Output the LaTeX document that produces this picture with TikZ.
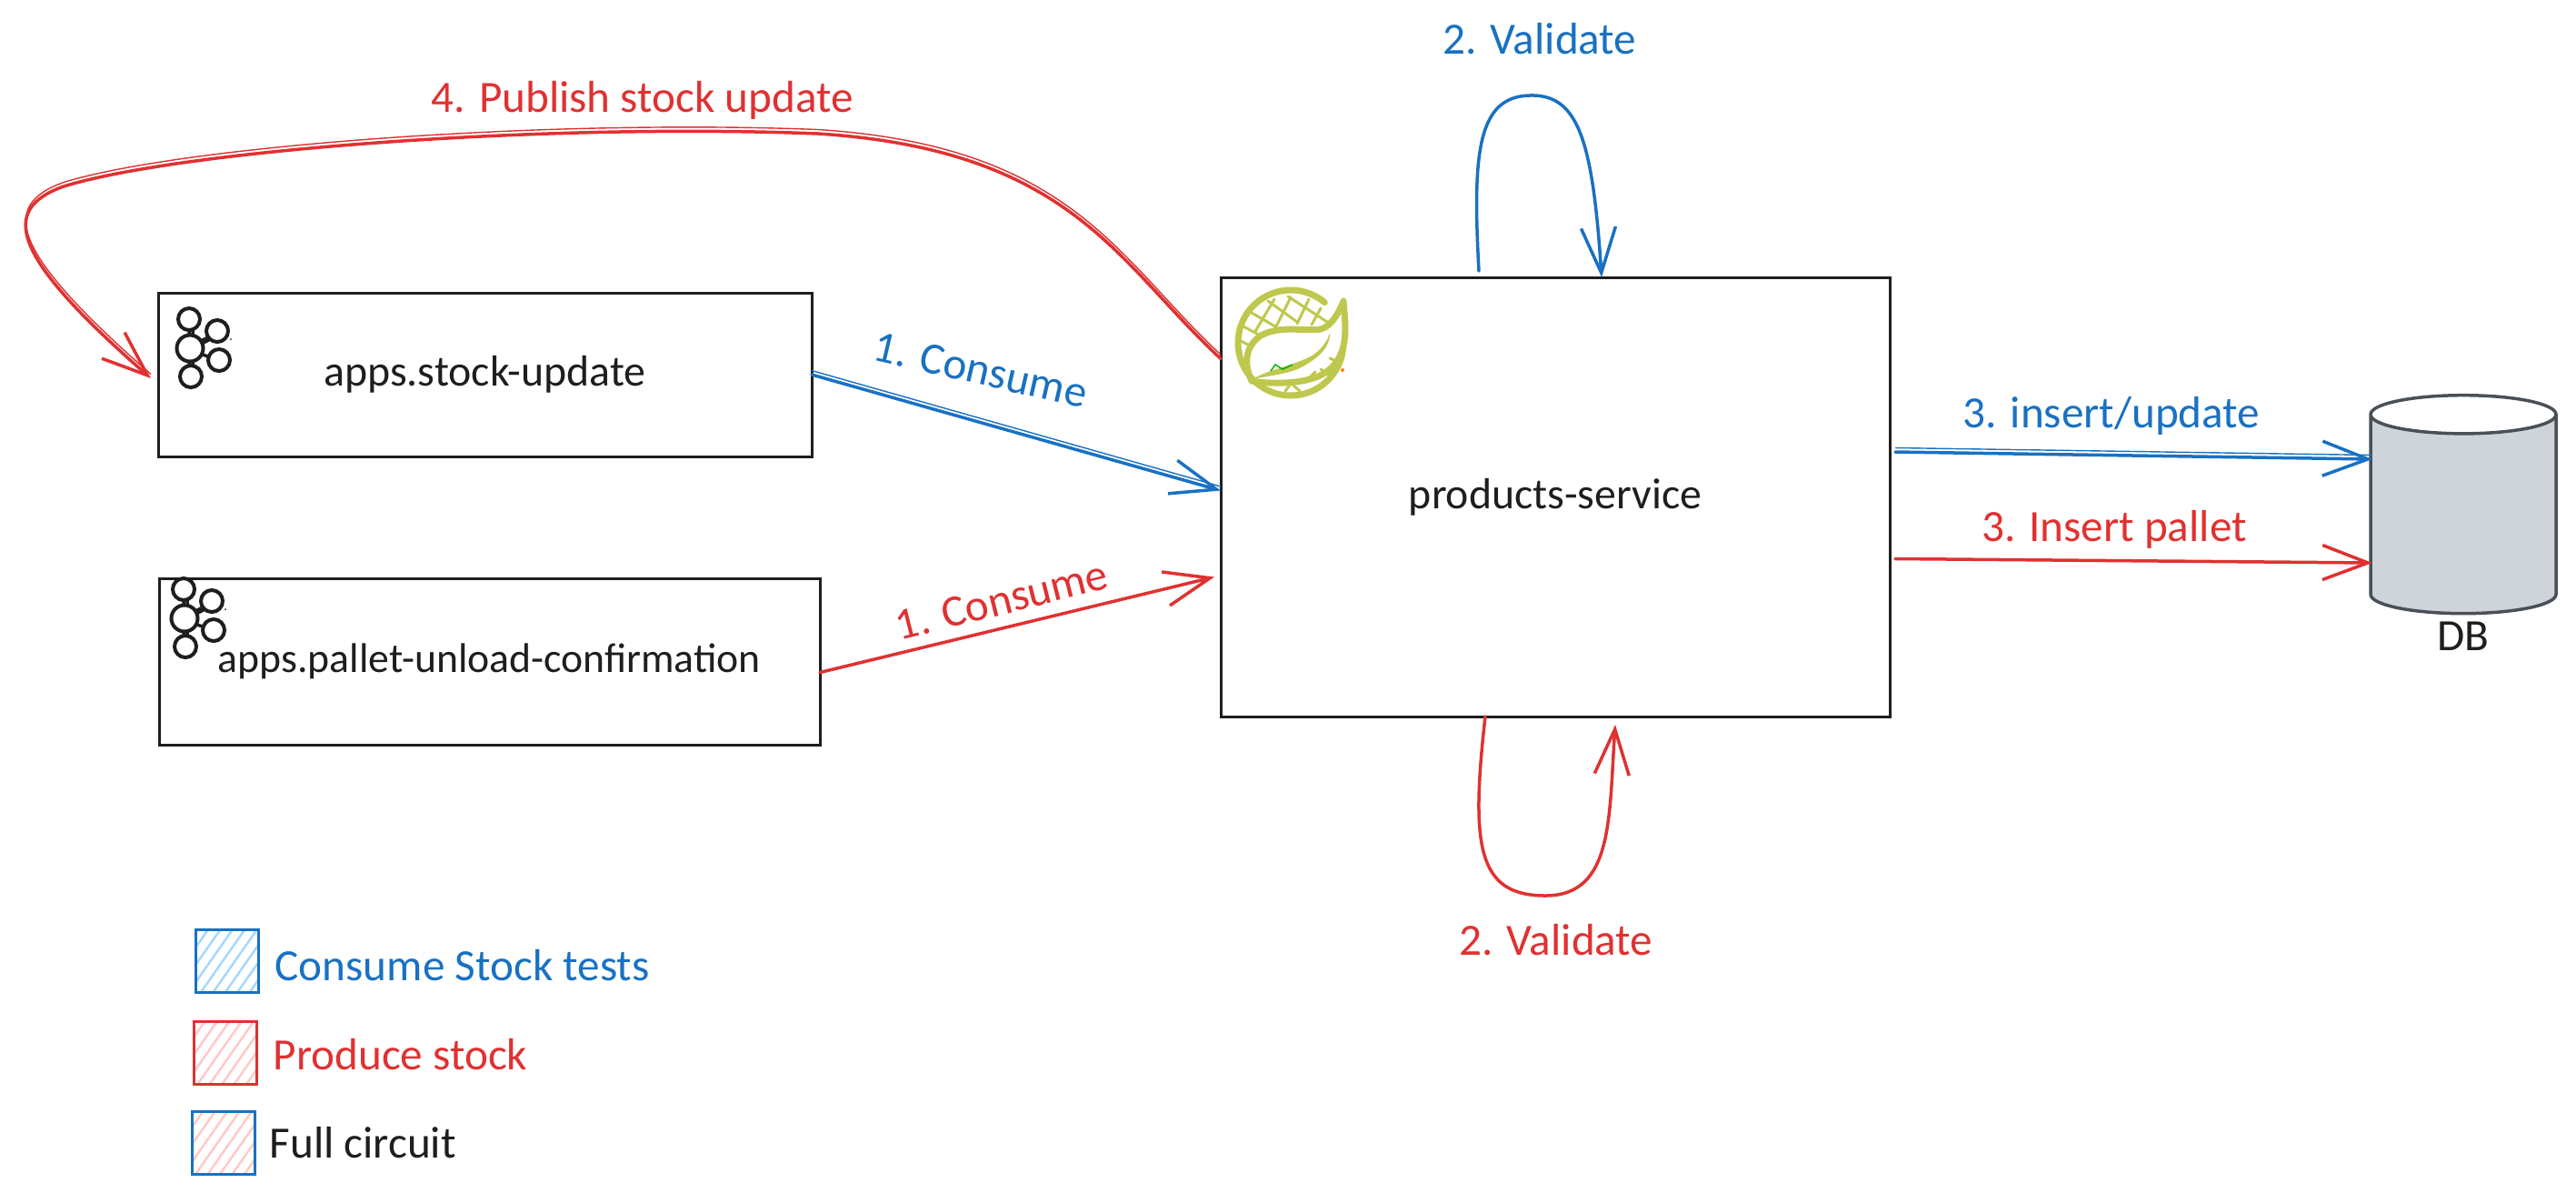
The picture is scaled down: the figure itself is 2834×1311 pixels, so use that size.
\documentclass[tikz,border=0pt]{standalone}
\usepackage{fontspec}
\setmainfont{Carlito}
\usepackage{xcolor}
\usetikzlibrary{arrows.meta,positioning,shapes.geometric,patterns.meta}
\definecolor{cons}{HTML}{1971C2}
\definecolor{prod}{HTML}{E03131}
\definecolor{ink}{HTML}{1E1E1E}
\definecolor{conshatch}{HTML}{A5D8FF}
\definecolor{prodhatch}{HTML}{FFC9C9}
\definecolor{spring}{HTML}{BFC84E}
\definecolor{dbfill}{HTML}{CED4DA}
\definecolor{dbline}{HTML}{495057}
\newcommand{\lblsize}{\fontsize{14}{16}\selectfont}
\newcommand{\boxsize}{\fontsize{13.6}{16}\selectfont}
\tikzset{
  blk/.style={draw=ink, line width=0.3mm, outer sep=0pt, inner sep=0pt,
              font=\boxsize, text=ink},
  ar/.style={-{Straight Barb[length=5mm,width=3.8mm,line width=0.35mm]},
             line width=0.35mm, line cap=round},
  consar/.style={ar, draw=cons},
  prodar/.style={ar, draw=prod},
  sketchy/.style={preaction={draw=#1, -, transform canvas={yshift=0.45mm}}},
  lbl/.style={font=\lblsize, inner sep=0pt},
  consl/.style={lbl, text=cons},
  prodl/.style={lbl, text=prod},
  legbox/.style={line width=0.3mm, outer sep=0pt, inner sep=0pt, minimum size=6.9mm},
  kafka/.pic={
    \draw[ink, line width=0.35mm]
      (-1,-22) -- (-1,22) (3,-22) -- (3,22) (0,-2) -- (26,-15) (0,2) -- (26,-12)
      (0,2) -- (28,12);
    \foreach \px/\py/\pr in {-1/-32/12, 30/-19/12, 32/13/12, 1/31/12, 0/0/14.5}
      \draw[ink, line width=0.4mm, fill=white] (\px,\py) circle (\pr);
    \fill[ink] (45,-10) circle (1);
  },
  springlogo/.pic={
    \begin{scope}[spring, line cap=round, line join=round]
    % net
    \draw[line width=0.3mm]
      (-18,-48) -- (-40,-11) (0,-50) -- (-17,-16) (20,-48) -- (7,-21) (33,-38) -- (23,-20)
      (-43,-33) -- (-17,-18) (-25,-46) -- (7,-23) (-3,-51) -- (40,-23)
      (-52,-18) -- (-37,-10) (-57,-3) -- (-47,2)
      (33,29) -- (42,35) (43,17) -- (50,20) (15,44) -- (27,32) (-6,53) -- (0,45) (3,47) -- (10,53);
    % ring
    \draw[line width=0.7mm] (0,0) +(-50:58) arc[start angle=-50, end angle=-355, radius=58];
    % leaf
    \draw[line width=0.7mm]
      (-43,42) .. controls (-52,22) and (-50,4) .. (-33,-8)
      .. controls (-10,-20) and (15,-12) .. (33,-15)
      .. controls (45,-18) and (54,-35) .. (58,-46)
      .. controls (60,-20) and (65,10) .. (43,29)
      .. controls (25,46) and (-20,46) .. (-43,42);
    % blade
    \fill (43,-11) .. controls (38,5) and (25,15) .. (13,19)
      .. controls (-10,28) and (-30,32) .. (-42,40)
      .. controls (-25,36) and (0,35) .. (17,24)
      .. controls (30,16) and (44,5) .. (43,-11);
    \end{scope}
    \draw[green!70!black, line width=0.15mm] (-22,31) -- (-17,24) -- (-9,29) -- (2,24);
    \fill[orange] (57,30) circle (2);
  },
}

\begin{document}
\begin{tikzpicture}[x=0.1mm, y=-0.1mm]
\useasboundingbox (0,0) rectangle (2834,1311);

% ---- topics ----
\node[blk, minimum width=71.9mm, minimum height=18mm] (stock) at (533.5,412) {apps.stock-update};
\node[blk, minimum width=72.7mm, minimum height=18.3mm, below=13.4mm of stock.south west, anchor=north west,
      xshift=0.1mm, font=\fontsize{13}{16}\selectfont] (pallet) {apps.pallet-unload-confirmation};
\pic at ([xshift=3.5mm,yshift=-6.1mm]stock.north west) {kafka};
\pic at ([xshift=2.8mm,yshift=-4.4mm]pallet.north west) {kafka};

% ---- service ----
\node[blk, minimum width=73.6mm, minimum height=48.3mm] (service) at (1711,546.5) {products-service};
\pic at ([xshift=7.7mm,yshift=-7.2mm]service.north west) {springlogo};

% ---- db ----
\node[cylinder, shape border rotate=90, aspect=1.8, draw=dbline, line width=0.35mm, outer sep=0pt,
      cylinder uses custom fill, cylinder body fill=dbfill, cylinder end fill=white,
      minimum width=20.4mm, minimum height=24mm] (db) at (2710,571) {};
\node[lbl, text=ink, below=0.9mm of db] (dblbl) {DB};

% ---- edges ----
\draw[consar, sketchy=cons] (stock.east) -- ([yshift=0.7mm]service.west);
\draw[prodar] ([yshift=-1.2mm]pallet.east) -- ([xshift=-0.7mm,yshift=-8.8mm]service.west);
\draw[consar, sketchy=cons] ([xshift=0.6mm,yshift=4.95mm]service.east) -- ([xshift=0.2mm,yshift=6.6mm]db.west);
\draw[prodar] ([xshift=0.6mm,yshift=-6.8mm]service.east) -- ([xshift=0.2mm,yshift=-4.8mm]db.west);

% loops
\draw[consar] ([xshift=-8.4mm,yshift=0.7mm]service.north)
  .. controls (1620,170) and (1625,107) .. (1682,105)
  .. controls (1735,103) and (1752,150) .. ([xshift=5.1mm]service.north);
\draw[prodar] ([xshift=-7.7mm]service.south)
  .. controls (1618,930) and (1625,985) .. (1700,985)
  .. controls (1775,985) and (1770,900) .. ([xshift=6.6mm,yshift=-0.9mm]service.south);

% publish
\draw[prodar, sketchy=prod] ([yshift=15.2mm]service.west)
  .. controls (1230,290) and (1180,165) .. (900,147)
  .. controls (600,135) and (200,165) .. (70,205)
  .. controls (0,230) and (10,280) .. ([xshift=-0.8mm,yshift=-0.4mm]stock.west);

% ---- labels ----
\node[consl, rotate=-13] (l1) at (1079,407) {1. Consume};
\node[prodl, rotate=14] (l2) at (1102,660) {1. Consume};
\node[consl] (l3) at (1694,43) {2. Validate};
\node[prodl] (l4) at (1712,1034) {2. Validate};
\node[consl] (l5) at (2323,457) {3. insert/update};
\node[prodl] (l6) at (2326,582) {3. Insert pallet};
\node[prodl] (l7) at (707,110) {4. Publish stock update};

% ---- legend ----
\node[legbox, draw=cons, pattern={Lines[angle=55,distance=1.1mm,line width=0.25mm]},
      pattern color=conshatch] (leg1) at (249.5,1056.5) {};
\node[legbox, draw=prod, pattern={Lines[angle=55,distance=1.1mm,line width=0.25mm]},
      pattern color=prodhatch, below=3.2mm of leg1, xshift=-0.2mm] (leg2) {};
\node[legbox, draw=cons, pattern={Lines[angle=55,distance=1.1mm,line width=0.25mm]},
      pattern color=prodhatch, below=3mm of leg2, xshift=-0.2mm] (leg3) {};
\node[consl, right=1.8mm of leg1, yshift=-0.5mm] (txt1) {Consume Stock tests};
\node[prodl, right=1.8mm of leg2, yshift=-0.2mm] (txt2) {Produce stock};
\node[lbl, text=ink, right=1.6mm of leg3] (txt3) {Full circuit};

\end{tikzpicture}
\end{document}
